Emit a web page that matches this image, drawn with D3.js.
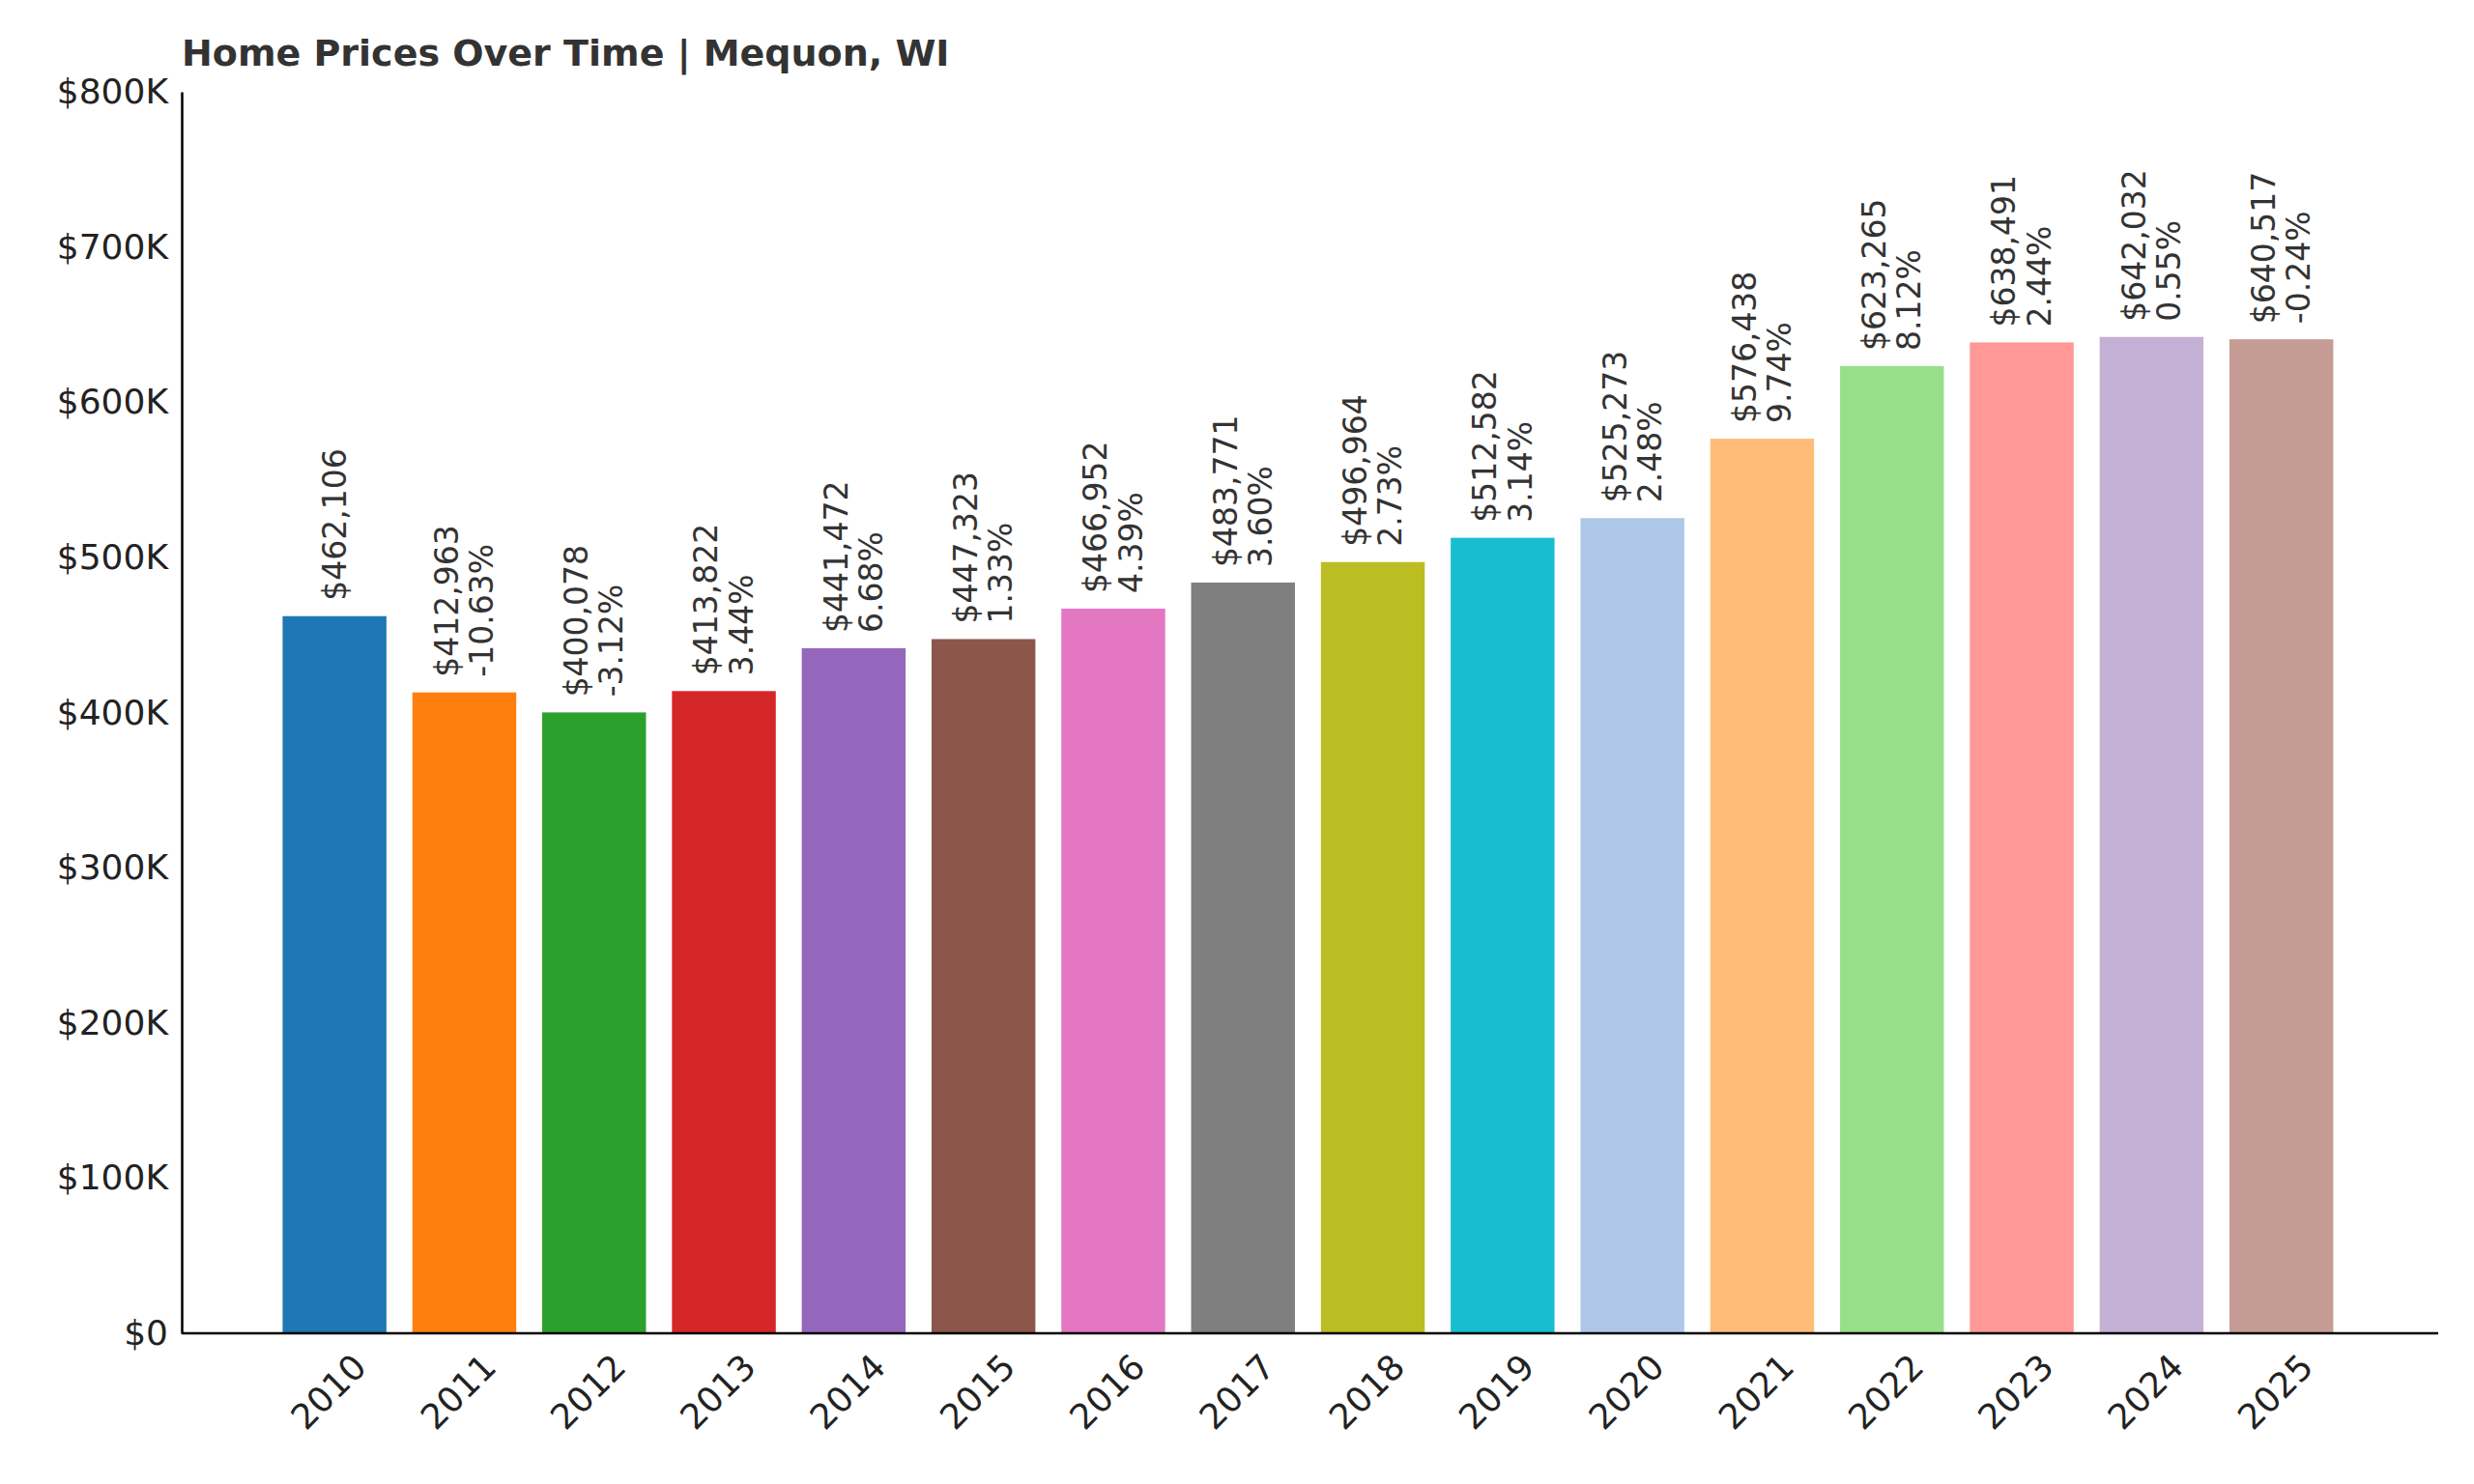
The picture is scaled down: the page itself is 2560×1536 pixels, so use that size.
<!DOCTYPE html>
<html><head><meta charset="utf-8">
<script src="https://cdn.jsdelivr.net/npm/d3@7"></script>
<style>body{margin:0;background:#fff}</style></head>
<body><svg id="c" width="2560" height="1536"></svg>
<script>
const years = ["2010","2011","2012","2013","2014","2015","2016","2017","2018","2019","2020","2021","2022","2023","2024","2025"];
const prices = [462106,412963,400078,413822,441472,447323,466952,483771,496964,512582,525273,576438,623265,638491,642032,640517];
const changes = [null,"-10.63%","-3.12%","3.44%","6.68%","1.33%","4.39%","3.60%","2.73%","3.14%","2.48%","9.74%","8.12%","2.44%","0.55%","-0.24%"];
const colors = ["#1f77b4","#ff7f0e","#2ca02c","#d62728","#9467bd","#8c564b","#e377c2","#7f7f7f","#bcbd22","#17becf","#aec7e8","#ffbb78","#98df8a","#ff9896","#c5b0d5","#c49c94"];
const yTicks = [0,100000,200000,300000,400000,500000,600000,700000,800000];

const svg = d3.select("#c");
const L=188, R=2523, T=95, B=1380;
const x = d3.scaleBand().domain(years).range([279, 279+16*134.3]).paddingInner(0.2).paddingOuter(0.1);
const y = d3.scaleLinear().domain([0,800000]).range([B,T]);
const font = "DejaVu Sans, sans-serif";

svg.append("text").attr("x",L).attr("y",68).attr("font-family",font).attr("font-weight","bold")
  .attr("font-size",38).attr("fill","#333").text("Home Prices Over Time | Mequon, WI");

svg.selectAll("rect.bar").data(prices).join("rect").attr("class","bar")
  .attr("x",(d,i)=>x(years[i])).attr("width",x.bandwidth())
  .attr("y",d=>y(d)).attr("height",d=>B-y(d)).attr("fill",(d,i)=>colors[i]);

const lab = svg.selectAll("g.lab").data(prices).join("g").attr("class","lab")
  .attr("transform",(d,i)=>`translate(${x(years[i])+x.bandwidth()/2},${y(d)-16}) rotate(-90)`);
lab.each(function(d,i){
  const g=d3.select(this);
  const two = changes[i]!==null;
  const t=g.append("text").attr("font-family",font).attr("font-size",33).attr("fill","#333").attr("text-anchor","start");
  t.append("tspan").attr("x",0).attr("dy", two? "-0.2em":"0.35em").text("$"+d3.format(",")(d));
  if(two) t.append("tspan").attr("x",0).attr("dy","1.1em").text(changes[i]);
});

const ya = svg.append("g").attr("transform",`translate(${L},0)`)
  .call(d3.axisLeft(y).tickValues(yTicks).tickSize(0).tickPadding(14).tickFormat(d=>d===0?"$0":"$"+d/1000+"K"));
ya.select(".domain").attr("stroke","#000").attr("stroke-width",2.5);
ya.selectAll("text").attr("font-family",font).attr("font-size",36).attr("fill","#222");

const xa = svg.append("g").attr("transform",`translate(0,${B})`)
  .call(d3.axisBottom(x).tickSize(0).tickPadding(20));
xa.select(".domain").attr("d",`M${L},0H${R}`).attr("stroke","#000").attr("stroke-width",2.5);
xa.selectAll("text").attr("font-family",font).attr("font-size",36).attr("fill","#222")
  .attr("text-anchor","end").attr("transform","translate(12,14) rotate(-45)").attr("dy","0.35em");
</script></body></html>
